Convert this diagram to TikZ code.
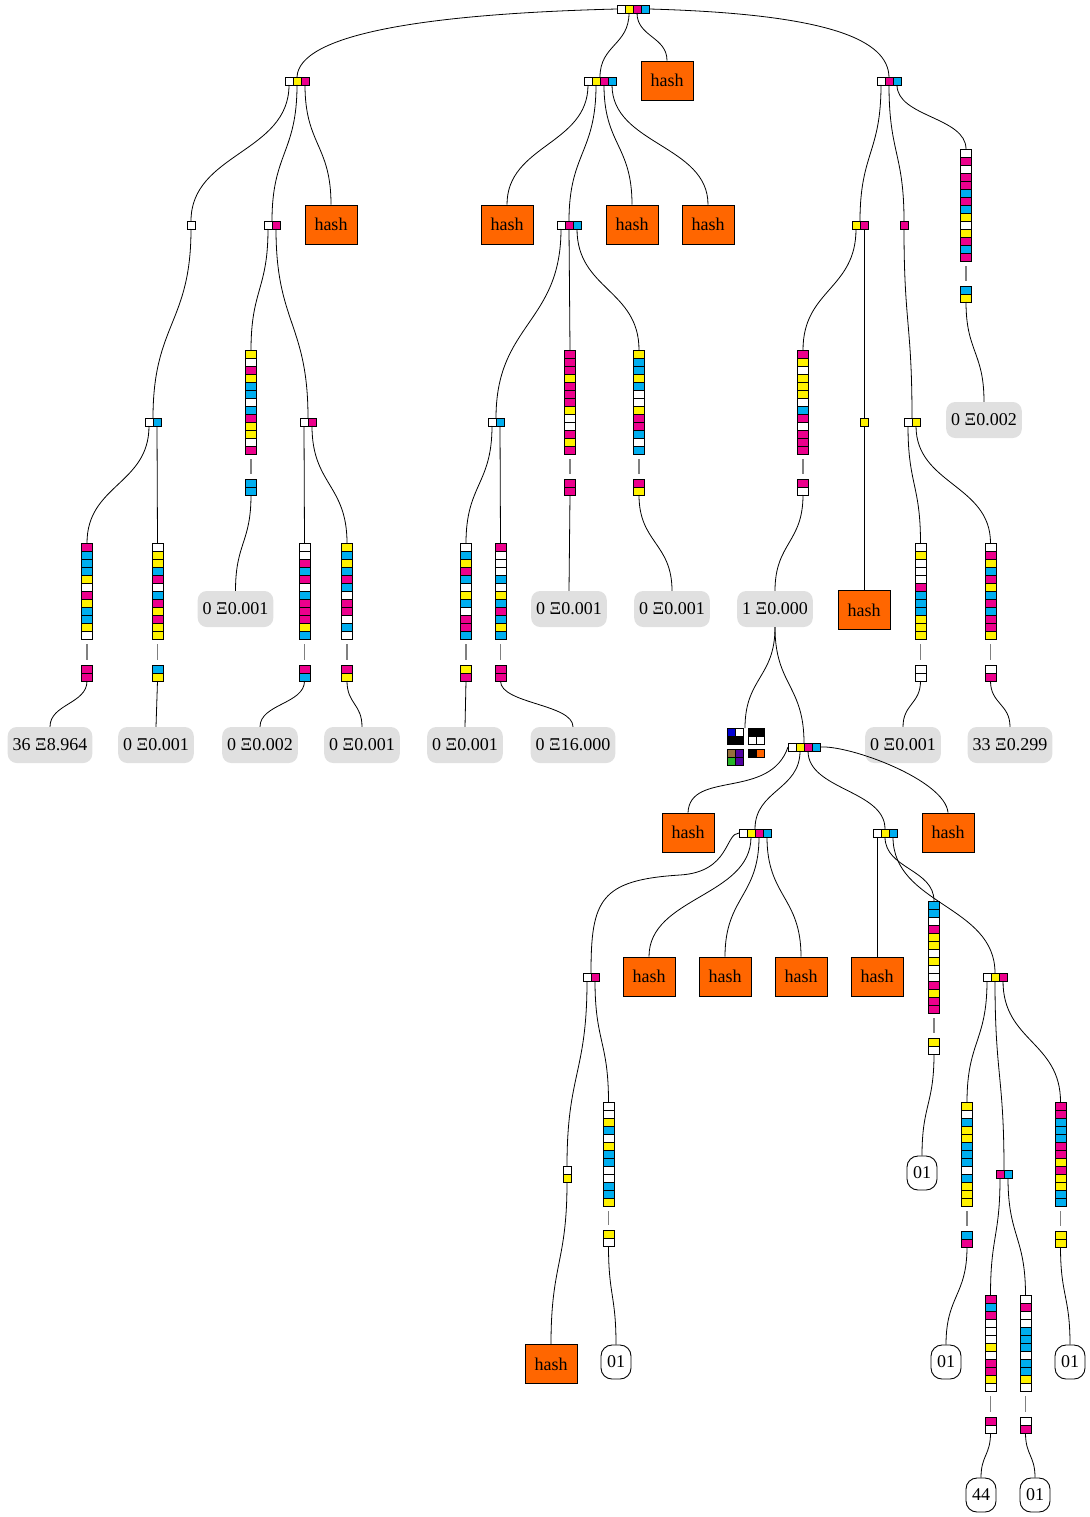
\documentclass[tikz,border=0pt]{standalone}
\usepackage{fontspec}
\setmainfont{Liberation Serif}
\usetikzlibrary{calc}
\definecolor{W}{RGB}{255,255,255}
\definecolor{Y}{RGB}{255,242,0}
\definecolor{M}{RGB}{236,0,140}
\definecolor{C}{RGB}{0,174,239}
\definecolor{hashc}{RGB}{255,102,0}
\definecolor{lblc}{RGB}{224,224,224}
\definecolor{bkblue}{RGB}{0,0,210}
\definecolor{bkbrown}{RGB}{150,110,60}
\definecolor{bkpurple}{RGB}{80,0,160}
\definecolor{bkgreen}{RGB}{40,180,40}
\definecolor{bkorange}{RGB}{255,100,0}
\newcommand\lblfont{\fontsize{18}{20}\selectfont}
\tikzset{
  hcell/.style={draw, line width=0.9pt, minimum width=8pt, minimum height=8pt, inner sep=0pt, outer sep=0pt},
  vcell/.style={hcell, minimum width=11pt},
  edge/.style={draw, line width=0.8pt},
  gline/.style={draw=gray, line width=1.8pt},
  hashbox/.style={draw, line width=0.9pt, fill=hashc, minimum width=52pt, minimum height=39pt, inner sep=0pt, font=\lblfont},
  val/.style={fill=lblc, rounded corners=9pt, minimum height=36pt, inner xsep=5pt, inner ysep=0pt, font=\lblfont},
  leaf/.style={draw, line width=0.9pt, fill=white, rounded corners=11pt, minimum width=30pt, minimum height=34pt, inner sep=0pt, font=\lblfont},
  bk/.style={draw, line width=0.8pt},
}
% horizontal record: name, left x, center y, colours
\newcommand\HRec[4]{\foreach \c [count=\i] in {#4} {%
  \node[hcell,fill=\c] (#1-\i) at ({#2+8*\i-4},#3) {};
  \coordinate (#1) at ({#2+4*\i},{#3-4});}}
% vertical record: name, center x, top y, colours
\newcommand\VRec[4]{\coordinate (#1) at (#2,#3);\foreach \c [count=\i] in {#4} {%
  \node[vcell,fill=\c] (#1-\i) at (#2,{#3+8*\i-4}) {};
  \coordinate (#1-bot) at (#2,{#3+8*\i});}}
\newcommand\VRecS[4]{\coordinate (#1) at (#2,#3);\foreach \c [count=\i] in {#4} {%
  \node[hcell,fill=\c] (#1-\i) at (#2,{#3+8*\i-4}) {};
  \coordinate (#1-bot) at (#2,{#3+8*\i});}}
% column with key box below
\newcommand\Col[6]{\VRec{#1}{#2}{#3}{#4}\VRec{#1b}{#2}{#5}{#6}%
  \draw[gline] ([yshift=-5pt]#1-bot) -- ([yshift=5pt]#1b);}
% S-shaped edge
\newcommand\SEdge[2]{\coordinate (mid) at ($(#1)!0.5!(#2)$);
  \draw[edge] (#1) .. controls (#1 |- mid) and (#2 |- mid) .. (#2);}
\begin{document}
\begin{tikzpicture}[x=1pt,y=-1pt]
\fill[white] (0,0) rectangle (1089,1517);
\useasboundingbox (0,0) rectangle (1089,1517);
% ---------- records ----------
\HRec{R}{617}{9}{W,Y,M,C}
\HRec{A}{285}{81}{W,Y,M}
\HRec{B}{584}{81}{W,Y,M,C}
\HRec{C}{877}{81}{W,M,C}
\HRec{A1}{187}{225}{W}
\HRec{A2}{264}{225}{W,M}
\HRec{B2}{557}{225}{W,M,C}
\HRec{C1}{852}{225}{Y,M}
\HRec{C2}{900}{225}{M}
\HRec{A1a}{145}{422}{W,C}
\HRec{A2b}{300}{422}{W,M}
\HRec{B2a}{488}{422}{W,C}
\HRec{C1b}{860}{422}{Y}
\HRec{C2a}{904}{422}{W,Y}
\HRec{D}{788}{747}{W,Y,M,C}
\HRec{D2}{739}{833}{W,Y,M,C}
\HRec{D3}{873}{833}{W,Y,C}
\HRec{E}{583}{977}{W,M}
\HRec{F}{983}{977}{W,Y,M}
\HRec{G}{996}{1174}{M,C}
\VRecS{Ew}{567}{1166}{W,Y}
% ---------- columns ----------
\Col{k1}{87}{543}{M,C,C,C,Y,W,M,Y,C,C,Y,W}{665}{M,M}
\Col{k2}{157.5}{543}{W,Y,Y,C,M,W,C,M,Y,M,Y,Y}{665}{C,Y}
\Col{k3}{251}{350}{Y,W,M,Y,C,C,W,C,M,Y,Y,W,M}{479}{C,C}
\Col{k4}{304.5}{543}{W,W,M,C,M,W,C,M,M,M,Y,C}{665}{M,C}
\Col{k5}{347}{543}{Y,C,Y,C,M,C,W,M,M,W,C,W}{665}{M,Y}
\Col{k6}{466}{543}{W,C,Y,M,C,W,Y,C,W,M,M,C}{665}{Y,M}
\Col{k7}{500.5}{543}{M,W,W,W,C,W,Y,C,M,C,Y,C}{665}{M,M}
\Col{k8}{570}{350}{M,M,M,Y,M,M,M,Y,W,W,M,Y,M}{479}{M,M}
\Col{k9}{639}{350}{Y,C,C,Y,C,W,W,Y,M,M,C,W,C}{479}{M,Y}
\Col{k10}{966}{149}{W,M,W,M,M,C,M,C,Y,W,Y,M,C,M}{286}{C,Y}
\Col{k11}{803}{350}{M,Y,W,Y,Y,Y,W,C,M,W,M,M,M}{479}{M,W}
\Col{k12}{920.5}{543}{W,Y,W,W,W,M,C,C,C,Y,Y,Y}{665}{W,W}
\Col{k13}{990.5}{543}{W,M,Y,C,M,Y,C,M,C,M,M,Y}{665}{W,M}
\Col{k14}{608.5}{1102}{W,W,Y,C,W,Y,C,C,W,W,C,C,Y}{1230}{Y,W}
\Col{k15}{934}{901}{C,C,W,M,Y,Y,W,Y,W,W,M,Y,M,M}{1038}{Y,W}
\Col{k16}{967}{1102}{Y,W,C,Y,Y,C,C,C,W,C,Y,Y,Y}{1231}{C,M}
\Col{k17}{1060.5}{1102}{M,M,C,C,C,M,M,Y,M,Y,Y,C,C}{1231}{Y,Y}
\Col{k18}{990.5}{1295}{M,C,M,W,W,W,Y,W,M,M,Y,W}{1417}{M,W}
\Col{k19}{1025.5}{1295}{W,M,W,W,C,C,C,W,C,C,Y,W}{1417}{W,M}
% ---------- hash boxes ----------
\node[hashbox] (H1) at (667,80.5) {hash};
\node[hashbox] (H2) at (331,224.5) {hash};
\node[hashbox] (H3) at (507,224.5) {hash};
\node[hashbox] (H4) at (632,224.5) {hash};
\node[hashbox] (H5) at (708,224.5) {hash};
\node[hashbox] (H6) at (864,610) {hash};
\node[hashbox] (H7) at (688,832.5) {hash};
\node[hashbox] (H8) at (948,832.5) {hash};
\node[hashbox] (H9) at (649,976.5) {hash};
\node[hashbox] (H10) at (725,976.5) {hash};
\node[hashbox] (H11) at (801,976.5) {hash};
\node[hashbox] (H12) at (877,976.5) {hash};
\node[hashbox] (H13) at (551,1364) {hash};
% ---------- value labels ----------
\node[val] (v1) at (50,745) {36 Ξ8.964};
\node[val] (v2) at (156,745) {0 Ξ0.001};
\node[val] (v3) at (235.5,609) {0 Ξ0.001};
\node[val] (v4) at (260,745) {0 Ξ0.002};
\node[val] (v5) at (362,745) {0 Ξ0.001};
\node[val] (v6) at (465,745) {0 Ξ0.001};
\node[val] (v7) at (573,745) {0 Ξ16.000};
\node[val] (v8) at (569,609) {0 Ξ0.001};
\node[val] (v9) at (672,609) {0 Ξ0.001};
\node[val] (v10) at (984,420) {0 Ξ0.002};
\node[val] (v11) at (775,609) {1 Ξ0.000};
\node[val] (v12) at (903,745) {0 Ξ0.001};
\node[val] (v13) at (1010,745) {33 Ξ0.299};
% ---------- leaf labels ----------
\node[leaf] (l1) at (616,1362) {01};
\node[leaf] (l2) at (922,1173) {01};
\node[leaf] (l3) at (946,1362) {01};
\node[leaf] (l4) at (1070,1362) {01};
\node[leaf] (l5) at (981,1495) {44};
\node[leaf] (l6) at (1035,1495) {01};
% ---------- blockies ----------
\filldraw[bk,fill=bkblue] (727,728) rectangle (735,736);
\filldraw[bk,fill=white] (735,728) rectangle (743,736);
\filldraw[bk,fill=black] (727,736) rectangle (735,744);
\filldraw[bk,fill=black] (735,736) rectangle (743,744);
\filldraw[bk,fill=black] (748,728) rectangle (756,736);
\filldraw[bk,fill=black] (756,728) rectangle (764,736);
\filldraw[bk,fill=white] (748,736) rectangle (756,744);
\filldraw[bk,fill=white] (756,736) rectangle (764,744);
\filldraw[bk,fill=bkbrown] (727,749) rectangle (735,757);
\filldraw[bk,fill=bkpurple] (735,749) rectangle (743,757);
\filldraw[bk,fill=bkgreen] (727,757) rectangle (735,765);
\filldraw[bk,fill=bkpurple] (735,757) rectangle (743,765);
\filldraw[bk,fill=black] (748,749) rectangle (756,757);
\filldraw[bk,fill=bkorange] (756,749) rectangle (764,757);
\coordinate (blk) at (745,728);
% ---------- edges ----------
\draw[edge] (R-1.west) .. controls (420,14) and (299,35) .. (A);
\draw[edge] (R-4.east) .. controls (830,14) and (888,40) .. (C);
\SEdge{R-2.south}{B}
\SEdge{R-3.south}{H1.north}
\SEdge{A-1.south}{A1}
\SEdge{A-2.south}{A2}
\SEdge{A-3.south}{H2.north}
\SEdge{B-1.south}{H3.north}
\SEdge{B-2.south}{B2}
\SEdge{B-3.south}{H4.north}
\SEdge{B-4.south}{H5.north}
\SEdge{C-1.south}{C1}
\SEdge{C-2.south}{C2}
\SEdge{C-3.south}{k10}
\SEdge{A1-1.south}{A1a}
\SEdge{A2-1.south}{k3}
\SEdge{A2-2.south}{A2b}
\SEdge{B2-1.south}{B2a}
\SEdge{B2-2.south}{k8}
\SEdge{B2-3.south}{k9}
\SEdge{C1-1.south}{k11}
\SEdge{C1-2.south}{C1b}
\SEdge{C2-1.south}{C2a}
\SEdge{A1a-1.south}{k1}
\SEdge{A1a-2.south}{k2}
\SEdge{A2b-1.south}{k4}
\SEdge{A2b-2.south}{k5}
\SEdge{B2a-1.south}{k6}
\SEdge{B2a-2.south}{k7}
\SEdge{C1b-1.south}{H6.north}
\SEdge{C2a-1.south}{k12}
\SEdge{C2a-2.south}{k13}
\SEdge{k1b-bot}{v1.north}
\SEdge{k2b-bot}{v2.north}
\SEdge{k3b-bot}{v3.north}
\SEdge{k4b-bot}{v4.north}
\SEdge{k5b-bot}{v5.north}
\SEdge{k6b-bot}{v6.north}
\SEdge{k7b-bot}{v7.north}
\SEdge{k8b-bot}{v8.north}
\SEdge{k9b-bot}{v9.north}
\SEdge{k10b-bot}{v10.north}
\SEdge{k11b-bot}{v11.north}
\SEdge{k12b-bot}{v12.north}
\SEdge{k13b-bot}{v13.north}
\SEdge{v11.south}{blk}
\SEdge{v11.south}{D}
\draw[edge] (D-1.west) .. controls (770,800) and (690,770) .. (H7.north);
\draw[edge] (D-4.east) .. controls (850,745) and (945,780) .. (H8.north);
\SEdge{D-2.south}{D2}
\SEdge{D-3.south}{D3}
\draw[edge] (D2-1.west) .. controls (725,833) and (730,872) .. (680,875) .. controls (600,880) and (591,900) .. (E);
\SEdge{D2-2.south}{H9.north}
\SEdge{D2-3.south}{H10.north}
\SEdge{D2-4.south}{H11.north}
\SEdge{D3-1.south}{H12.north}
\SEdge{D3-2.south}{k15}
\SEdge{D3-3.south}{F}
\SEdge{E-1.south}{Ew}
\SEdge{E-2.south}{k14}
\SEdge{Ew-bot}{H13.north}
\SEdge{F-1.south}{k16}
\SEdge{F-2.south}{G}
\SEdge{F-3.south}{k17}
\SEdge{G-1.south}{k18}
\SEdge{G-2.south}{k19}
\SEdge{k14b-bot}{l1.north}
\SEdge{k15b-bot}{l2.north}
\SEdge{k16b-bot}{l3.north}
\SEdge{k17b-bot}{l4.north}
\SEdge{k18b-bot}{l5.north}
\SEdge{k19b-bot}{l6.north}
\end{tikzpicture}
\end{document}
